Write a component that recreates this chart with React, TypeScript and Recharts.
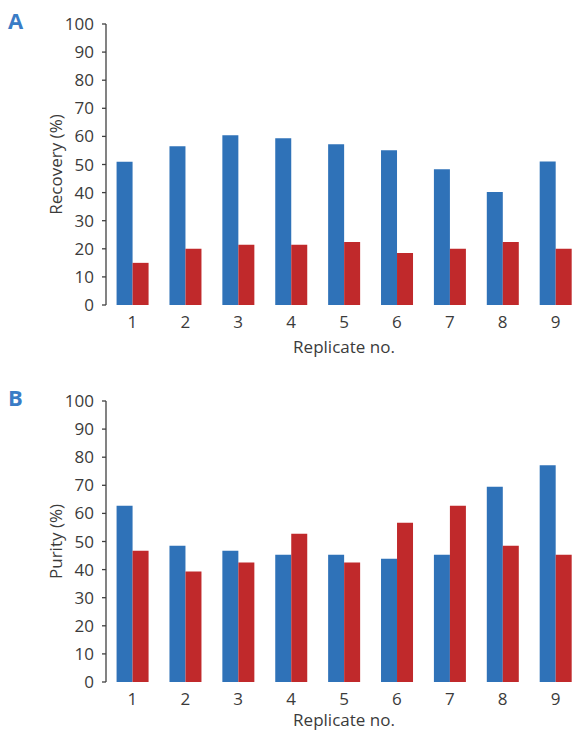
import React from 'react';
import { BarChart, Bar, XAxis, YAxis } from 'recharts';

const replicates = ['1', '2', '3', '4', '5', '6', '7', '8', '9'];
const recoveryBlue = [51, 56.5, 60.4, 59.3, 57.2, 55.1, 48.3, 40.2, 51.1];
const recoveryRed = [15, 20, 21.4, 21.4, 22.4, 18.5, 20, 22.4, 20];
const purityBlue = [62.7, 48.5, 46.7, 45.3, 45.3, 43.9, 45.3, 69.5, 77.1];
const purityRed = [46.7, 39.3, 42.5, 52.8, 42.5, 56.7, 62.7, 48.5, 45.3];
const yTicks = [0, 10, 20, 30, 40, 50, 60, 70, 80, 90, 100];
const boundaryTicks = [0, 1, 2, 3, 4, 5, 6, 7, 8, 9];

const BLUE = '#2f72b8';
const RED = '#c0292b';
const TEXT = '#3b3b3b';
const AXIS = '#404040';
const FONT = "'Open Sans', sans-serif";

function build(blue: number[], red: number[]) {
  return replicates.map((rep, i) => ({ rep, blue: blue[i], red: red[i] }));
}

type PanelProps = {
  letter: string;
  yLabel: string;
  blue: number[];
  red: number[];
  top: number;
  height: number;
  marginBottom: number;
  labelOffset: number;
};

function Panel({ letter, yLabel, blue, red, top, height, marginBottom, labelOffset }: PanelProps) {
  const data = build(blue, red);
  const tickStyle = { fill: TEXT, fontSize: 17, fontFamily: FONT };
  return (
    <div style={{ position: 'absolute', left: 0, top, width: 582, height }}>
      <div
        style={{
          position: 'absolute',
          left: 8,
          top: 5,
          fontFamily: FONT,
          fontWeight: 700,
          fontSize: 22,
          color: '#3a7cc6',
          zIndex: 2,
        }}
      >
        {letter}
      </div>
      <BarChart
        width={582}
        height={height}
        data={data}
        margin={{ top: 24, right: 0, bottom: marginBottom, left: 0 }}
        barCategoryGap="20%"
        barGap={0}
      >
        <XAxis
          xAxisId={0}
          type="number"
          domain={[0, 9]}
          ticks={boundaryTicks}
          allowDataOverflow
          interval={0}
          height={0}
          tick={() => null}
          tickSize={5}
          stroke={AXIS}
          strokeWidth={1.3}
        />
        <XAxis
          xAxisId="cat"
          dataKey="rep"
          type="category"
          interval={0}
          axisLine={false}
          tickLine={false}
          tickSize={0}
          tickMargin={11}
          height={50}
          tick={tickStyle}
          label={{
            value: 'Replicate no.',
            position: 'insideBottom',
            offset: labelOffset,
            fill: TEXT,
            fontSize: 17,
            fontFamily: FONT,
          }}
        />
        <YAxis
          type="number"
          domain={[0, 100]}
          ticks={yTicks}
          interval={0}
          width={106}
          tickSize={4}
          tickMargin={8}
          stroke={AXIS}
          strokeWidth={1.3}
          tick={tickStyle}
          label={{
            value: yLabel,
            angle: -90,
            position: 'insideLeft',
            offset: 56,
            textAnchor: 'middle',
            fill: TEXT,
            fontSize: 17,
            fontFamily: FONT,
          }}
        />
        <Bar xAxisId="cat" dataKey="blue" fill={BLUE} isAnimationActive={false} />
        <Bar xAxisId="cat" dataKey="red" fill={RED} isAnimationActive={false} />
      </BarChart>
    </div>
  );
}

export default function App() {
  return (
    <div style={{ position: 'absolute', left: 0, top: 0, width: 582, height: 731, background: '#fff' }}>
      <Panel letter="A" yLabel="Recovery (%)" blue={recoveryBlue} red={recoveryRed} top={0} height={365} marginBottom={10} labelOffset={2} />
      <Panel letter="B" yLabel="Purity (%)" blue={purityBlue} red={purityRed} top={377} height={355} marginBottom={0} labelOffset={6} />
    </div>
  );
}
